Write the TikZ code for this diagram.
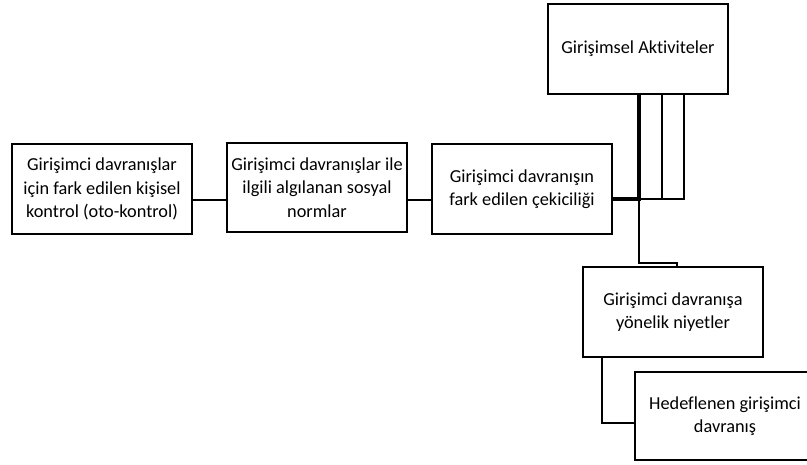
\documentclass[tikz,border=0pt]{standalone}
\usepackage{fontspec}
\setmainfont{Carlito}[Ligatures={NoCommon}]
\begin{document}
\begin{tikzpicture}[x=1pt,y=-1pt,
  box/.style={draw=black,line width=2.7pt,fill=white,inner sep=0pt,
    minimum width=180pt,minimum height=90pt,align=center,
    font=\fontsize{18.3pt}{23.5pt}\selectfont,text=black},
  conn/.style={line width=2.7pt,draw=black},
  thickconn/.style={line width=4.5pt,draw=black}]
\useasboundingbox (0,0) rectangle (807,464);
\fill[white] (0,0) rectangle (807,464);
\coordinate (j) at (639,199);
\coordinate (j2) at (662,199);
\coordinate (j3) at (684,199);
\coordinate (d) at (639,263);
\coordinate (d2) at (677,263);
\coordinate (e) at (602,423);
\coordinate (c1) at (0,200);
\node[box] (B1) at (102,189) {Girişimci davranışlar\\için fark edilen kişisel\\kontrol (oto-kontrol)};
\node[box,minimum height=89pt] (B2) at (317,187.5) {Girişimci davranışlar ile\\ilgili algılanan sosyal\\normlar};
\node[box] (B3) at (522,189) {Girişimci davranışın\\fark edilen çekiciliği};
\node[box] (A) at (638,49) {Girişimsel Aktiviteler};
\node[box] (B4) at (673,312) {Girişimci davranışa\\yönelik niyetler};
\node[box,minimum height=88pt] (B5) at (725,416) {Hedeflenen girişimci\\davranış};
\draw[conn] (B1.east |- c1) -- (B2.west |- c1);
\draw[conn] (B2.east |- c1) -- (B3.west |- c1);
\draw[conn] (j) -- (j3) -- (j3 |- A.south);
\draw[conn] (j2) -- (j2 |- A.south);
\draw[thickconn] (B3.east |- j) -- (j) -- (j |- A.south);
\draw[conn] (j) -- (d) -- (d2) -- (d2 |- B4.north);
\draw[conn] (B4.south -| e) -- (e) -- (B5.west |- e);
\end{tikzpicture}
\end{document}
